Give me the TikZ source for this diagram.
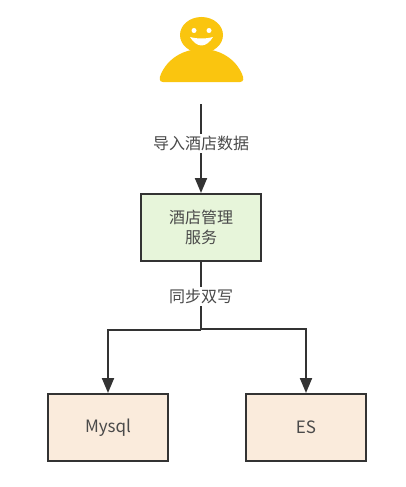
\documentclass[tikz,border=0pt]{standalone}
\usepackage{fontspec}
\setmainfont{Noto Sans CJK SC}
\usetikzlibrary{arrows.meta}
\definecolor{inkgray}{HTML}{333333}
\definecolor{textgray}{HTML}{4A4A4A}
\definecolor{servicegreen}{HTML}{E7F5DA}
\definecolor{storepeach}{HTML}{FAEBDC}
\definecolor{useryellow}{HTML}{FAC50F}
\begin{document}
\begin{tikzpicture}[x=1pt,y=-1pt]
	\tikzstyle{BoxStyle}=[draw=inkgray,line width=2pt,minimum width=120pt,minimum height=67pt,inner sep=0pt,align=center,text=textgray,font=\fontsize{16}{20}\selectfont]
	\tikzstyle{StoreStyle}=[BoxStyle,fill=storepeach,font=\fontsize{17}{20}\selectfont]
	\tikzstyle{EdgeStyle}=[draw=inkgray,line width=2pt]
	\tikzstyle{ArrowStyle}=[EdgeStyle,-{Triangle[length=15pt,width=12pt]}]
	\tikzstyle{LabelStyle}=[fill=white,inner sep=2pt,text=textgray,font=\fontsize{16}{18}\selectfont]
	\useasboundingbox (0,0) rectangle (405,487);
	\fill[useryellow] (163,82) .. controls (159,82) and (159,78) .. (161,74) .. controls (168,58) and (184,49) .. (201.5,49) .. controls (219,49) and (235,58) .. (242,74) .. controls (244,78) and (244,82) .. (240,82) -- cycle;
	\fill[useryellow] (201.5,35) ellipse (21.5 and 18);
	\fill[white] (194,30.5) circle (2.5);
	\fill[white] (209,30.5) circle (2.5);
	\fill[white] (190,37) .. controls (193,42) and (197,45.5) .. (201.5,45.5) .. controls (206,45.5) and (210,42) .. (213,37) .. controls (206,39) and (197,39) .. (190,37) -- cycle;
	\node[BoxStyle,fill=servicegreen] (service) at (201,227.5) {\raisebox{-2.5pt}{\shortstack{酒店管理\\[1.5pt]服务}}};
	\node[StoreStyle] (mysql) at (108,427.5) {\raisebox{-3.5pt}{Mysql}};
	\node[StoreStyle] (es) at (306,427.5) {\raisebox{-3.5pt}{ES}};
	\coordinate (userEnd) at (201,104);
	\coordinate (fork) at (201,330);
	\draw[ArrowStyle] (userEnd) -- (service);
	\node[LabelStyle] (importLabel) at (201,143.5) {导入酒店数据};
	\draw[EdgeStyle] (service) -- (fork);
	\node[LabelStyle] (syncLabel) at (201,296.5) {同步双写};
	\draw[ArrowStyle] (fork) -| (mysql);
	\draw[ArrowStyle] ([yshift=1pt]fork) -| (es);
\end{tikzpicture}
\end{document}
